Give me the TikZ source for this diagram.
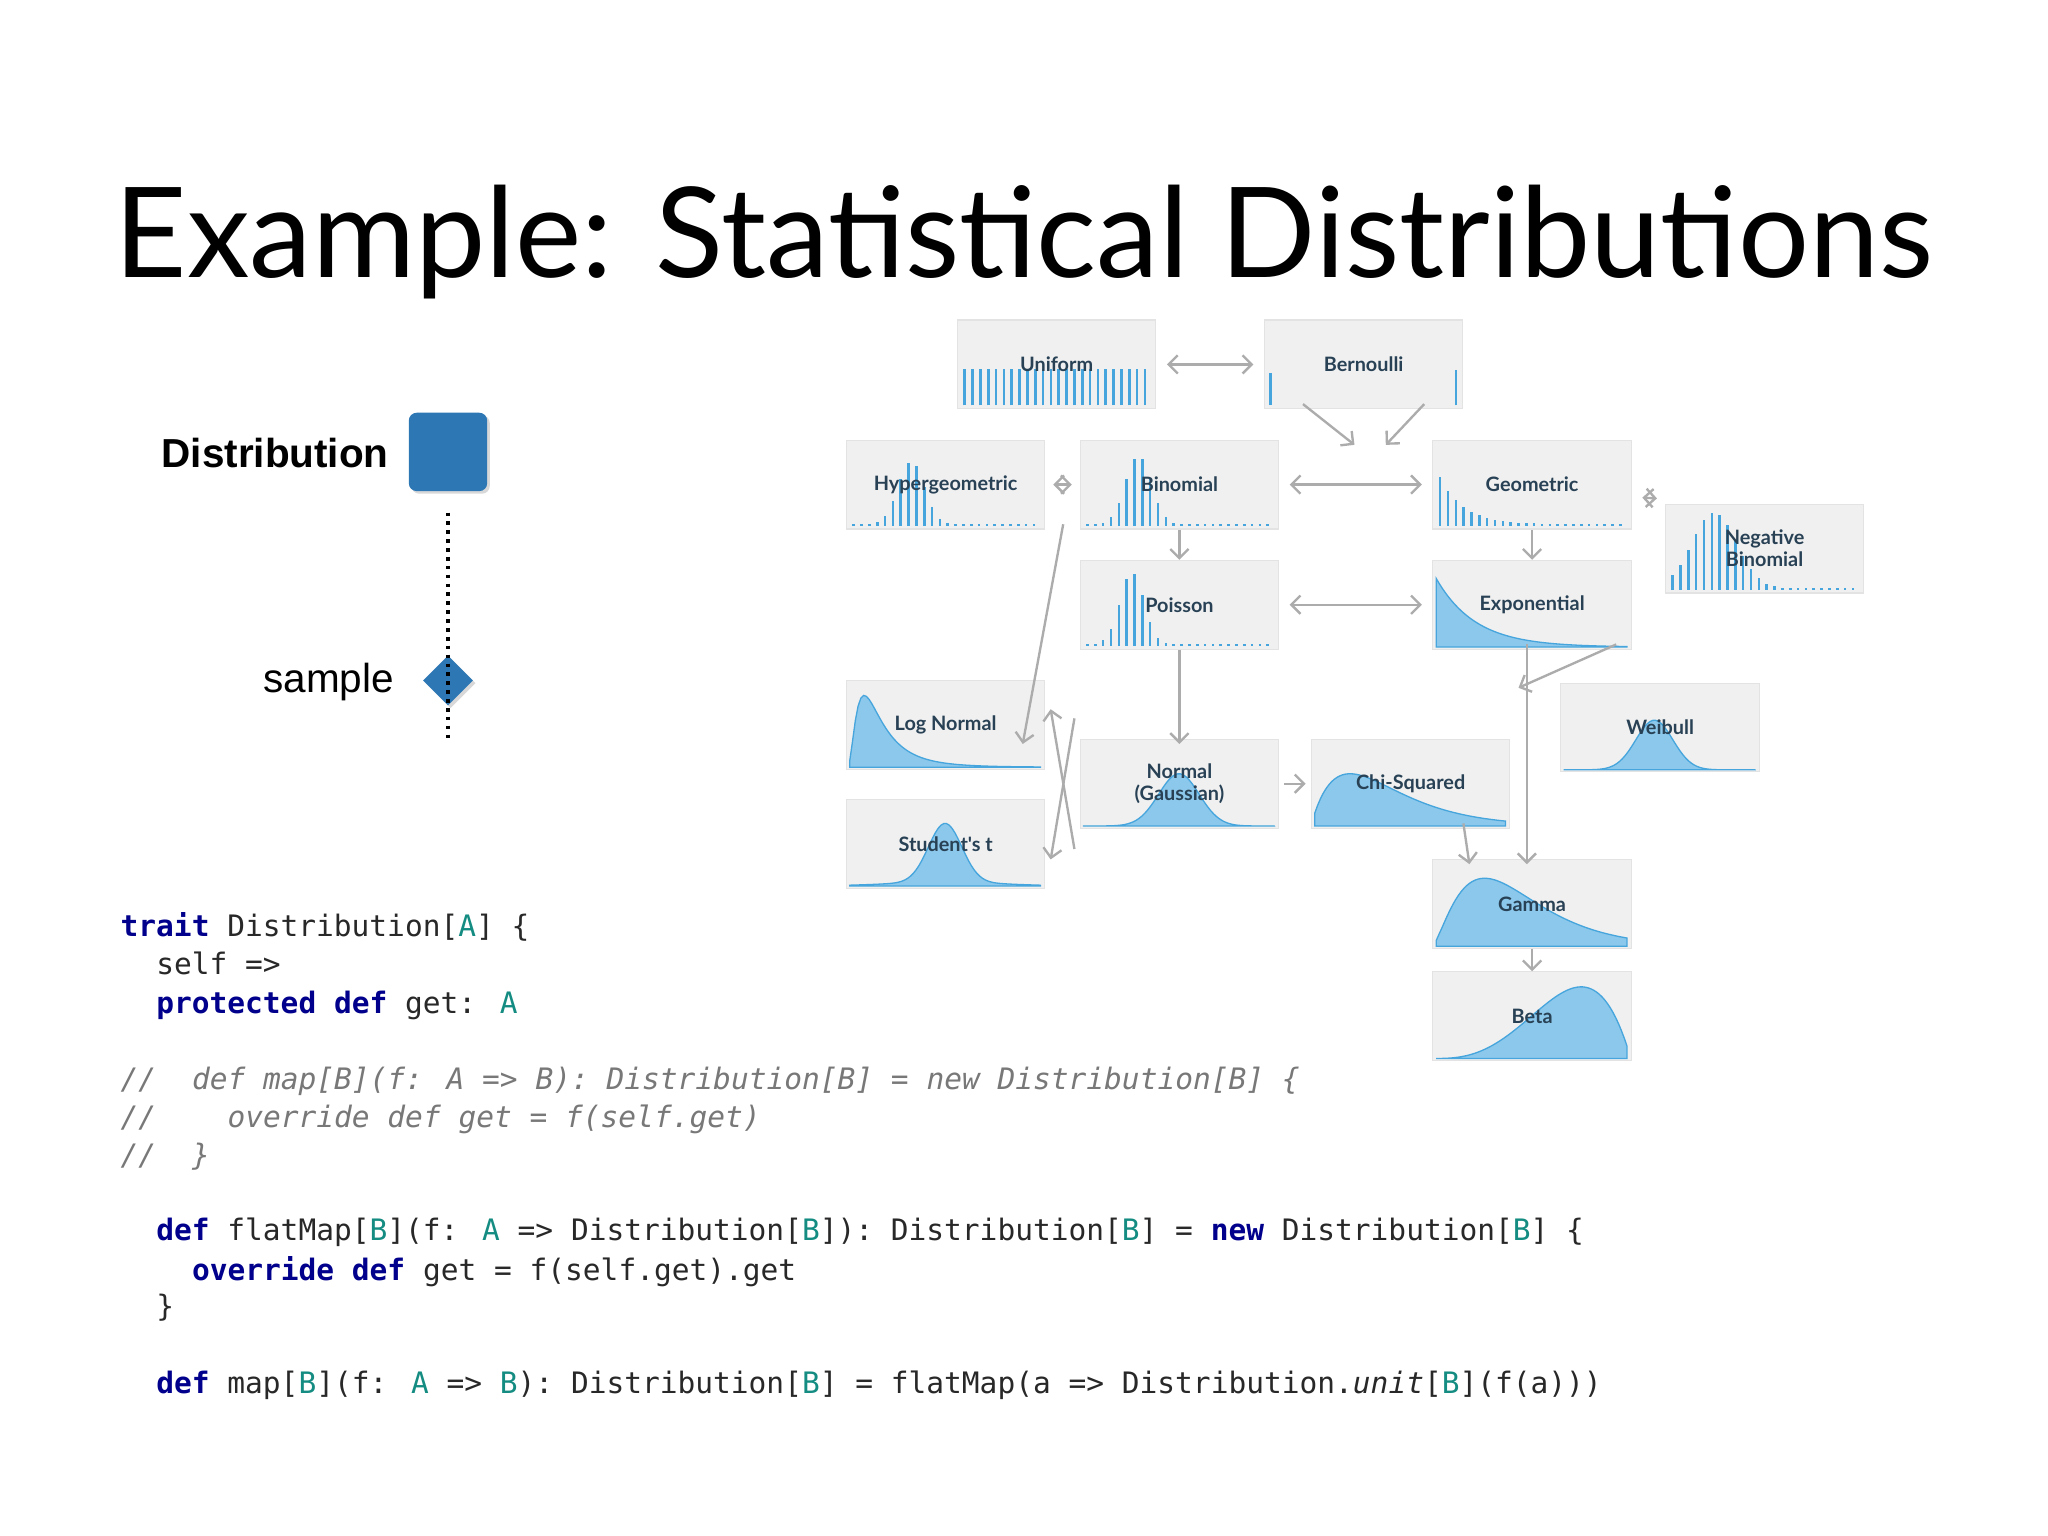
\documentclass[tikz,border=0pt]{standalone}
\usepackage{fontspec}
\usepackage{graphicx}
\usetikzlibrary{arrows.meta,shadows}
\newfontfamily\cd{DejaVu Sans Mono}
\newfontfamily\lab{Lato}
\newfontfamily\ttl{Lato}
\newfontfamily\hel{Liberation Sans}
\definecolor{kwc}{RGB}{0,0,140}
\definecolor{tpc}{RGB}{20,140,130}
\definecolor{cmc}{RGB}{120,120,120}
\definecolor{txc}{RGB}{40,40,40}
\definecolor{barc}{RGB}{70,165,220}
\definecolor{cfc}{RGB}{140,200,235}
\definecolor{labc}{RGB}{40,65,85}
\definecolor{sqc}{RGB}{45,120,180}
\newcommand\kw[1]{{\bfseries\color{kwc}#1}}
\newcommand\tp[1]{{\color{tpc}#1}}
\newcommand\cdist[2]{\begin{scope}[shift={(#1.south west)}]
 \fill[cfc,draw=barc,line width=0.5pt] (3,-2) -- plot[domain=3:149,samples=70] (\x,{-2-(#2)}) -- (149,-2) -- cycle;
 \end{scope}}
\newcommand\ddist[2]{\begin{scope}[shift={(#1.south west)}]
 \foreach \x in {6,12,...,146} \draw[barc,line width=1pt] (\x,-3) -- (\x,{-3-(#2)});
 \end{scope}}
\begin{document}
\begin{tikzpicture}[x=0.5pt,y=-0.5pt,
 dbox/.style={minimum width=76pt,minimum height=34pt,fill=gray!12,draw=gray!22,inner sep=0},
 dlab/.style={font=\lab\bfseries\fontsize{7.6}{8.5}\selectfont,text=labc,align=center},
 arr/.style={draw=gray!65,line width=0.9pt,-{Straight Barb[length=3.5pt]}},
 barr/.style={arr,{Straight Barb[length=3.5pt]}-{Straight Barb[length=3.5pt]}},
 code/.style={font=\cd\fontsize{11.3}{13}\selectfont,text=txc,anchor=base west,inner sep=0},
 cmt/.style={code,text=cmc,font=\cd\itshape\fontsize{11.3}{13}\selectfont}]
\useasboundingbox (0,0) rectangle (1568,1176);
\fill[white] (0,0) rectangle (1568,1176);
\node[inner sep=0] (title) at (784,185) {\resizebox{696pt}{!}{\ttl Example: Statistical Distributions}};
% boxes
\node[dbox] (unif) at (809,279) {};
\node[dbox] (bern) at (1044,279) {};
\node[dbox] (hyp) at (724,371) {};
\node[dbox] (bin) at (903,371) {};
\node[dbox] (geo) at (1173,371) {};
\node[dbox] (nb) at (1351,420) {};
\node[dbox] (poi) at (903,463) {};
\node[dbox] (exp) at (1173,463) {};
\node[dbox] (logn) at (724,555) {};
\node[dbox] (wei) at (1271,557) {};
\node[dbox] (norm) at (903,600) {};
\node[dbox] (chi) at (1080,600) {};
\node[dbox] (stud) at (724,646) {};
\node[dbox] (gam) at (1173,692) {};
\node[dbox] (beta) at (1173,778) {};
% shapes
\ddist{unif}{28}
\begin{scope}[shift={(bern.south west)}]
 \draw[barc,line width=1pt] (5,-3) -- (5,-28); \draw[barc,line width=1pt] (147,-3) -- (147,-30);
\end{scope}
\ddist{hyp}{48*exp(-((\x-50)/14)^2)+1}
\ddist{bin}{52*exp(-((\x-45)/14)^2)+1}
\ddist{geo}{50*exp(-\x/18)+1}
\ddist{nb}{58*exp(-((\x-38)/24)^2)+1}
\ddist{poi}{55*exp(-((\x-40)/13)^2)+1}
\cdist{exp}{58*exp(-\x/30)}
\cdist{logn}{55*exp(-((ln(\x/14))^2)/1.0)}
\cdist{wei}{38*exp(-((\x-72)/20)^2)}
\cdist{norm}{40*exp(-((\x-76)/22)^2)}
\cdist{chi}{40*(\x/30)*exp(1-\x/30)}
\cdist{stud}{45*exp(-((\x-76)/18)^2)+3*exp(-((\x-76)/60)^2)}
\cdist{gam}{52*(\x/40)^1.5*exp(1.5*(1-\x/40))}
\cdist{beta}{520*(\x/152)^3*(1-\x/152)}
% labels
\node[dlab] at (unif) {Uniform};
\node[dlab] at (bern) {Bernoulli};
\node[dlab] at (hyp) {Hypergeometric};
\node[dlab] at (bin) {Binomial};
\node[dlab] at (geo) {Geometric};
\node[dlab] at (nb) {Negative\\Binomial};
\node[dlab] at (poi) {Poisson};
\node[dlab] at (exp) {Exponential};
\node[dlab] at (logn) {Log Normal};
\node[dlab] at (wei) {Weibull};
\node[dlab] at (norm) {Normal\\(Gaussian)};
\node[dlab] at (chi) {Chi-Squared};
\node[dlab] at (stud) {Student's t};
\node[dlab] at (gam) {Gamma};
\node[dlab] at (beta) {Beta};
% connectors
\draw[barr] ([xshift=4]unif.east) -- ([xshift=-4]bern.west);
\draw[arr] ([xshift=15,yshift=2]bern.south west) -- ([xshift=67,yshift=-2]bin.north);
\draw[arr] ([xshift=-15,yshift=2]bern.south east) -- ([xshift=-56,yshift=-2]geo.north);
\draw[barr] ([xshift=3]hyp.east) -- ([xshift=-3]bin.west);
\draw[barr] ([xshift=4]bin.east) -- ([xshift=-4]geo.west);
\draw[barr] ([xshift=4,yshift=-5]geo.east) -- ([xshift=-3,yshift=2]nb.north west);
\draw[arr] (bin.south) -- (poi.north);
\draw[arr] (geo.south) -- (exp.north);
\draw[barr] ([xshift=4]poi.east) -- ([xshift=-4]exp.west);
\draw[arr] ([xshift=45,yshift=2]hyp.south) -- ([xshift=-60,yshift=-2]norm.north);
\draw[arr] (poi.south) -- ([yshift=-2]norm.north);
\draw[arr] ([xshift=-6,yshift=2]exp.south east) -- ([xshift=-16,yshift=-2]wei.north west);
\draw[arr] ([xshift=-2,yshift=2]exp.south) -- ([xshift=-2,yshift=-2]gam.north);
\draw[arr] ([xshift=-2,yshift=-25]norm.west) -- ([xshift=2,yshift=6]logn.east);
\draw[arr] ([xshift=-2,yshift=25]norm.west) -- ([xshift=2,yshift=-6]stud.east);
\draw[arr] ([xshift=2]norm.east) -- ([xshift=-2]chi.west);
\draw[arr] ([xshift=-18,yshift=2]chi.south east) -- ([xshift=-24,yshift=-2]gam.north);
\draw[arr] (gam.south) -- (beta.north);
% legend
\node[font=\hel\bfseries\fontsize{15.5}{18}\selectfont,anchor=east,inner sep=0] (dl) at (298,347) {Distribution};
\node[fill=sqc,rounded corners=3pt,minimum size=30pt,inner sep=0,drop shadow={opacity=0.3,shadow xshift=1pt,shadow yshift=-1pt}] (sq) at (343,346) {};
\node[fill=sqc,rectangle,rotate=45,minimum width=13.5pt,minimum height=13.5pt,inner sep=0,drop shadow={opacity=0.3,shadow xshift=1pt,shadow yshift=-1pt}] (dia) at (343,521) {};
\draw[dotted,line width=1.4pt] ([yshift=-8]sq.south) -- ([yshift=-24]dia.center);
\node[font=\hel\fontsize{15.5}{18}\selectfont,anchor=east,inner sep=0] (sl) at (302,522) {sample};
% code
\node[code] (c1) at (92,717) {\kw{trait} Distribution[\tp{A}] \{};
\node[code] (c2) at (119.3,746) {self =>};
\node[code] (c3) at (119.3,776) {\kw{protected} \kw{def} get: \tp{A}};
\node[cmt] (c4a) at (92,834) {//};
\node[cmt] (c4) at (146.6,834) {def map[B](f: A => B): Distribution[B] = new Distribution[B] \{};
\node[cmt] (c5a) at (92,863) {//};
\node[cmt] (c5) at (173.8,863) {override def get = f(self.get)};
\node[cmt] (c6a) at (92,892) {//};
\node[cmt] (c6) at (146.6,892) {\}};
\node[code] (c7) at (119.3,950) {\kw{def} flatMap[\tp{B}](f: \tp{A} => Distribution[\tp{B}]): Distribution[\tp{B}] = \kw{new} Distribution[\tp{B}] \{};
\node[code] (c8) at (146.6,980) {\kw{override} \kw{def} get = f(self.get).get};
\node[code] (c9) at (119.3,1008) {\}};
\node[code] (c10) at (119.3,1067) {\kw{def} map[\tp{B}](f: \tp{A} => \tp{B}): Distribution[\tp{B}] = flatMap(a => Distribution.{\itshape unit}[\tp{B}](f(a)))};
\end{tikzpicture}
\end{document}
